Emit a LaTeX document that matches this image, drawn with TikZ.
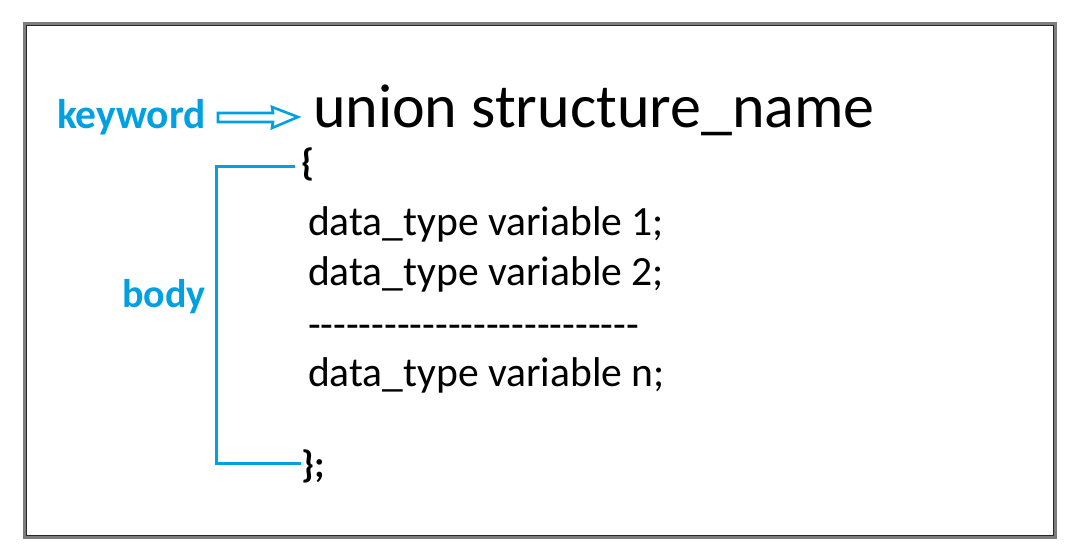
\documentclass[tikz,border=0pt]{standalone}
\usepackage{fontspec}
\usetikzlibrary{calc}
\setmainfont{Carlito}
\definecolor{kwblue}{RGB}{0,160,226}
\definecolor{framegray}{RGB}{125,125,125}
\definecolor{framedark}{RGB}{40,40,40}
\begin{document}
\begin{tikzpicture}[x=1pt,y=-1pt,
  txt/.style={anchor=base west,inner sep=0pt,outer sep=0pt},
  code/.style={txt,font=\fontsize{41.6}{41.6}\selectfont},
  lbl/.style={txt,text=kwblue,font=\fontsize{40}{40}\selectfont\bfseries},
  brace/.style={txt,font=\fontsize{38}{38}\selectfont\bfseries},
  bline/.style={draw=kwblue,line width=3pt}]
\useasboundingbox (0,0) rectangle (1080,556);
\fill[white] (0,0) rectangle (1080,556);
% frame
\draw[framegray,line width=3pt] (24.5,23.5) rectangle (1055,537.5);
\draw[framedark,line width=1pt] (26.5,25.5) rectangle (1053,535.5);
% texts
\node[txt,font=\fontsize{62}{62}\selectfont] (head) at (313,128) {union structure\_name};
\node[lbl,font=\fontsize{41.5}{41.5}\selectfont\bfseries] (kw) at (57,129) {keyword};
\node[lbl] (body) at (122,308) {body};
\node[brace] (ob) at (301,176) {\{};
\node[code] (l1) at (308,236) {data\_type variable 1;};
\node[code] (l2) at (308,286) {data\_type variable 2;};
\node[code] (l3) at (308,338) {-{}-{}-{}-{}-{}-{}-{}-{}-{}-{}-{}-{}-{}-{}-{}-{}-{}-{}-{}-{}-{}-{}-{}-{}-{}-{}};
\node[code] (ln) at (308,386) {data\_type variable n;};
\node[brace] (cb) at (301,477) {\};};
% arrow (keyword -> union)
\draw[kwblue,line width=2.6pt,line join=miter]
  (218,113) -- (273,113) -- (272,107) -- (298,117) -- (272,128) -- (273,122) -- (218,122) -- cycle;
% bracket
\coordinate (tl) at (216,167);
\coordinate (bl) at (216,463);
\draw[bline] ($(ob.west |- tl)+(-6,0)$) -- (tl) -- (bl) -- (cb.west |- bl);
\end{tikzpicture}
\end{document}
